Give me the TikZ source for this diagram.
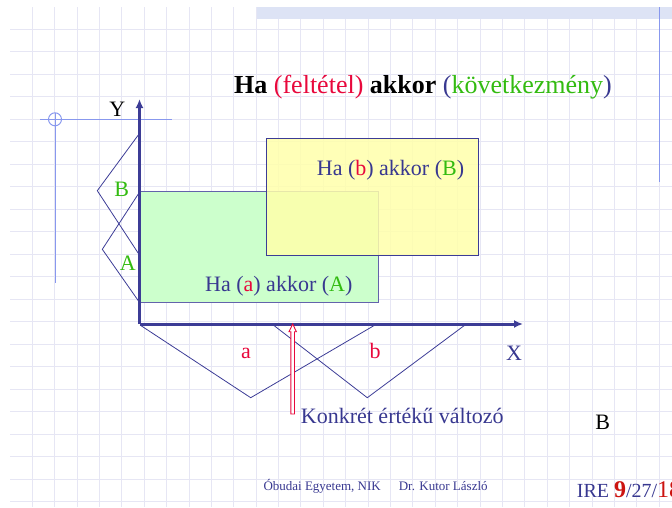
\documentclass[tikz,border=0pt]{standalone}
\usepackage{fontspec}
\setmainfont{Liberation Serif}
\usetikzlibrary{arrows.meta}
\definecolor{navy}{HTML}{3C3C96}
\definecolor{ink}{HTML}{383890}
\definecolor{hotred}{HTML}{E8083C}
\definecolor{dkred}{HTML}{CC1410}
\definecolor{lime}{HTML}{33BB11}
\definecolor{gridcol}{HTML}{E6E6F4}
\definecolor{deco}{HTML}{8898EE}
\definecolor{banner}{HTML}{DDE3F5}
\definecolor{boxgreen}{HTML}{CCFFCC}
\definecolor{boxyellow}{HTML}{FFFFAA}
\tikzset{
  gridline/.style={gridcol, line width=1pt},
  decoline/.style={deco, line width=1pt},
  axis/.style={navy, line width=3pt, -{Latex[length=9pt,width=8pt]}},
  fuzzy/.style={navy, line width=0.8pt, line join=miter},
  txt/.style={inner sep=0pt, font=\fontsize{22}{26}\selectfont, text=ink},
}
\begin{document}
\begin{tikzpicture}[x=1pt,y=-1pt]
    \useasboundingbox (0,0) rectangle (672,507);
    % squared paper
    \foreach \k in {0,...,28}
        \draw[gridline] ({32.3+22.39*\k},7) -- ({32.3+22.39*\k},507);
    \foreach \k in {0,...,21}
        \draw[gridline] (10,{29.3+22.5*\k}) -- (672,{29.3+22.5*\k});
    \fill[banner] (257,7) rectangle (672,18.5);
    \draw[decoline] (659.3,7) -- (659.3,182);
    \draw[decoline] (40,119.3) -- (172,119.3);
    \draw[decoline] (55,113) -- (55,283);
    \draw[decoline] (55,119.3) circle (6.5pt);
    % title
    \node[txt, anchor=base west, font=\fontsize{26}{30}\selectfont, text=black] (title) at (234,93)
        {\textbf{Ha} \textcolor{hotred}{(feltétel)} \textbf{akkor} \textcolor{ink}{(}\textcolor{lime}{következmény}\textcolor{ink}{)}};
    % rule boxes
    \fill[boxgreen] (139.5,191.5) rectangle (378,302.5);
    \draw[navy!80, line width=0.8pt] (139.5,191.5) -- (378,191.5) -- (378,302.5) -- (139.5,302.5);
    \draw[navy, line width=0.8pt, fill=boxyellow, fill opacity=0.85] (266.7,138.3) rectangle (478.3,255);
    \node[txt, anchor=base west] (ruleB) at (316.7,175)
        {Ha (\textcolor{hotred}{b}) akkor (\textcolor{lime}{B})};
    \node[txt, anchor=base west] (ruleA) at (205,291.6)
        {Ha (\textcolor{hotred}{a}) akkor (\textcolor{lime}{A})};
    % fuzzy sets
    \draw[fuzzy] (138.3,135) -- (97.3,190.7) -- (138.3,253.3);
    \draw[fuzzy] (138.3,194) -- (102.3,249.3) -- (138.3,300.7);
    \draw[fuzzy] (140,325) -- (250.7,397.7) -- (375,325);
    \draw[fuzzy] (273.3,325) -- (367.3,397.7) -- (465,325);
    % axes
    \coordinate (O) at (139.5,324);
    \coordinate (ytip) at (139.5,99);
    \coordinate (xtip) at (523,324);
    \draw[axis] (O) -- (ytip);
    \draw[axis] (O) -- (xtip);
    \node[txt, anchor=base, text=black] (ylab) at (117.3,116) {Y};
    \node[txt, anchor=base] (xlab) at (514,360) {X};
    \node[txt, anchor=base, text=lime] (setB) at (121.7,196.5) {B};
    \node[txt, anchor=base, text=lime] (setA) at (127.7,270.5) {A};
    \node[txt, anchor=base, text=hotred] (seta) at (246,358) {a};
    \node[txt, anchor=base, text=hotred] (setb) at (375,358) {b};
    % crisp input value
    \coordinate (pick) at (292.7,324);
    \node[txt, anchor=base west] (konkret) at (300.7,423) {Konkrét értékű változó};
    \draw[hotred, line width=0.9pt, fill=white]
        (290.9,414) -- (290.9,331.7) -- (289,331.7) -- (pick) -- (296.4,331.7) -- (294.5,331.7) -- (294.5,414) -- cycle;
    \node[txt, anchor=base, text=black] (outB) at (602.7,429.3) {B};
    % footer
    \node[txt, anchor=base west, font=\fontsize{13}{15}\selectfont] (org) at (263.3,490.5)
        {Óbudai Egyetem, NIK\hspace{18pt}Dr. Kutor László};
    \node[txt, anchor=base west, font=\fontsize{20}{24}\selectfont] (page) at (576.7,497)
        {IRE \textcolor{dkred}{\fontsize{24}{28}\selectfont\textbf{9}}/27/\textcolor{dkred}{\fontsize{24}{28}\selectfont 18}};
\end{tikzpicture}
\end{document}
